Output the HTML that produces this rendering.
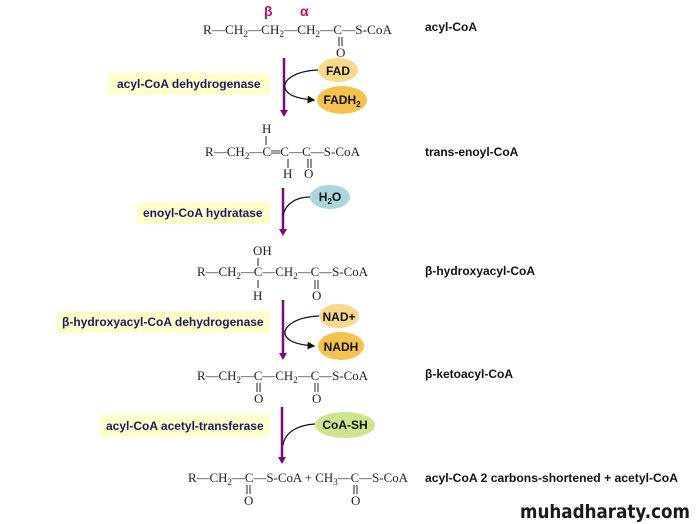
<!DOCTYPE html>
<html><head><meta charset="utf-8"><style>
html,body{margin:0;padding:0;background:#fff;}
svg{display:block}
.f{font-family:"Liberation Serif",serif;font-size:13px;fill:#222}
.l{font-family:"Liberation Sans",sans-serif;font-size:12px;font-weight:bold;fill:#111}
.e{font-family:"Liberation Sans",sans-serif;font-size:12px;font-weight:bold;fill:#1a1a5e}
.c{font-family:"Liberation Sans",sans-serif;font-size:12px;font-weight:bold;fill:#111;text-anchor:middle}
</style></head><body>
<svg width="700" height="524" viewBox="0 0 700 524" xmlns="http://www.w3.org/2000/svg">
<defs><marker id="a" markerWidth="6" markerHeight="6" refX="5" refY="3" orient="auto"><path d="M0,0L6,3L0,6z" fill="#111"/></marker>
<marker id="p" markerWidth="6" markerHeight="6" refX="3" refY="5" orient="auto-start-reverse"><path d="M0,0L6,0L3,6z" fill="#7a0a7a" transform="rotate(-90 3 3)"/></marker></defs>

<!-- row1 -->
<text x="264" y="16" font-family="Liberation Sans,sans-serif" font-size="14" font-weight="bold" fill="#c0106a">β</text>
<text x="300" y="16" font-family="Liberation Sans,sans-serif" font-size="14" font-weight="bold" fill="#c0106a">α</text>
<text class="f" x="203" y="34" textLength="189" lengthAdjust="spacingAndGlyphs">R—CH<tspan font-size="9" dy="3">2</tspan><tspan dy="-3">—CH</tspan><tspan font-size="9" dy="3">2</tspan><tspan dy="-3">—CH</tspan><tspan font-size="9" dy="3">2</tspan><tspan dy="-3">—C—S-CoA</tspan></text>
<path d="M339,37V46M342,37V46" stroke="#222"/>
<text class="f" x="336" y="57">O</text>
<text class="l" x="425" y="31">acyl-CoA</text>

<!-- enzyme 1 -->
<rect x="108" y="73" width="162" height="22" fill="#ffffcc"/>
<text class="e" x="117" y="88">acyl-CoA dehydrogenase</text>
<line x1="284" y1="58" x2="284" y2="112" stroke="#7a0a7a" stroke-width="2.5"/>
<path d="M280,110L284,117L288,110z" fill="#7a0a7a"/>
<ellipse cx="338" cy="70" rx="20" ry="12" fill="#fbd88a"/>
<text class="c" x="338" y="75">FAD</text>
<ellipse cx="342" cy="100" rx="25" ry="14" fill="#f5c250"/>
<text class="c" x="342" y="104">FADH<tspan font-size="8" dy="3">2</tspan></text>
<path d="M318,70C295,71 283,80 285,88C287,96 300,99 314,100" fill="none" stroke="#111" stroke-width="1.3" marker-end="url(#a)"/>

<!-- row2 -->
<text class="f" x="262" y="133">H</text>
<path d="M266,136V145" stroke="#222"/>
<text class="f" x="205" y="156" textLength="155" lengthAdjust="spacingAndGlyphs">R—CH<tspan font-size="9" dy="3">2</tspan><tspan dy="-3">—C═C—C—S-CoA</tspan></text>
<path d="M288,159V168M308,159V168M311,159V168" stroke="#222"/>
<text class="f" x="283" y="178">H</text>
<text class="f" x="304" y="178">O</text>
<text class="l" x="425" y="156">trans-enoyl-CoA</text>

<!-- enzyme 2 -->
<rect x="137" y="202" width="133" height="22" fill="#ffffcc"/>
<text class="e" x="143" y="217">enoyl-CoA hydratase</text>
<line x1="283" y1="188" x2="283" y2="230" stroke="#7a0a7a" stroke-width="2.5"/>
<path d="M279,229L283,236L287,229z" fill="#7a0a7a"/>
<ellipse cx="330" cy="197" rx="20" ry="12" fill="#aad6de"/>
<text class="c" x="330" y="201">H<tspan font-size="8" dy="3">2</tspan><tspan dy="-3">O</tspan></text>
<path d="M310,197C296,197 285,204 283,216" fill="none" stroke="#111" stroke-width="1.3"/>

<!-- row3 -->
<text class="f" x="253" y="255">OH</text>
<path d="M258,258V266M258,280V288" stroke="#222"/>
<text class="f" x="197" y="276" textLength="171" lengthAdjust="spacingAndGlyphs">R—CH<tspan font-size="9" dy="3">2</tspan><tspan dy="-3">—C—CH</tspan><tspan font-size="9" dy="3">2</tspan><tspan dy="-3">—C—S-CoA</tspan></text>
<path d="M315,280V289M318,280V289" stroke="#222"/>
<text class="f" x="253" y="300">H</text>
<text class="f" x="312" y="300">O</text>
<text class="l" x="425" y="275">β-hydroxyacyl-CoA</text>

<!-- enzyme 3 -->
<rect x="57" y="311" width="213" height="22" fill="#ffffcc"/>
<text class="e" x="62" y="326">β-hydroxyacyl-CoA dehydrogenase</text>
<line x1="283" y1="300" x2="283" y2="354" stroke="#7a0a7a" stroke-width="2.5"/>
<path d="M279,353L283,360L287,353z" fill="#7a0a7a"/>
<ellipse cx="339" cy="316" rx="20" ry="12" fill="#fbd88a"/>
<text class="c" x="339" y="321">NAD+</text>
<ellipse cx="341" cy="346" rx="23" ry="14" fill="#f5c250"/>
<text class="c" x="341" y="351">NADH</text>
<path d="M319,316C296,317 284,326 285,334C287,342 300,345 314,346" fill="none" stroke="#111" stroke-width="1.3" marker-end="url(#a)"/>

<!-- row4 -->
<text class="f" x="197" y="380" textLength="171" lengthAdjust="spacingAndGlyphs">R—CH<tspan font-size="9" dy="3">2</tspan><tspan dy="-3">—C—CH</tspan><tspan font-size="9" dy="3">2</tspan><tspan dy="-3">—C—S-CoA</tspan></text>
<path d="M257,383V392M260,383V392M315,383V392M318,383V392" stroke="#222"/>
<text class="f" x="254" y="403">O</text>
<text class="f" x="312" y="403">O</text>
<text class="l" x="425" y="378">β-ketoacyl-CoA</text>

<!-- enzyme 4 -->
<rect x="100" y="414" width="170" height="23" fill="#ffffcc"/>
<text class="e" x="106" y="430">acyl-CoA acetyl-transferase</text>
<line x1="282" y1="407" x2="282" y2="458" stroke="#7a0a7a" stroke-width="2.5"/>
<path d="M278,457L282,464L286,457z" fill="#7a0a7a"/>
<ellipse cx="345" cy="425" rx="30" ry="13" fill="#cde68c"/>
<text class="c" x="345" y="429">CoA-SH</text>
<path d="M315,424C298,425 285,432 283,445" fill="none" stroke="#111" stroke-width="1.3"/>

<!-- row5 -->
<text class="f" x="188" y="482" textLength="220" lengthAdjust="spacingAndGlyphs">R—CH<tspan font-size="9" dy="3">2</tspan><tspan dy="-3">—C—S-CoA + CH</tspan><tspan font-size="9" dy="3">3</tspan><tspan dy="-3">—C—S-CoA</tspan></text>
<path d="M247,485V494M250,485V494M354,485V494M357,485V494" stroke="#222"/>
<text class="f" x="244" y="505">O</text>
<text class="f" x="351" y="505">O</text>
<text class="l" x="425" y="482" textLength="253" lengthAdjust="spacingAndGlyphs">acyl-CoA 2 carbons-shortened + acetyl-CoA</text>

<text x="520" y="518" font-family="DejaVu Sans,sans-serif" font-size="19" font-weight="bold" fill="#1a1a1a" textLength="170" lengthAdjust="spacingAndGlyphs">muhadharaty.com</text>
</svg>
</body></html>
